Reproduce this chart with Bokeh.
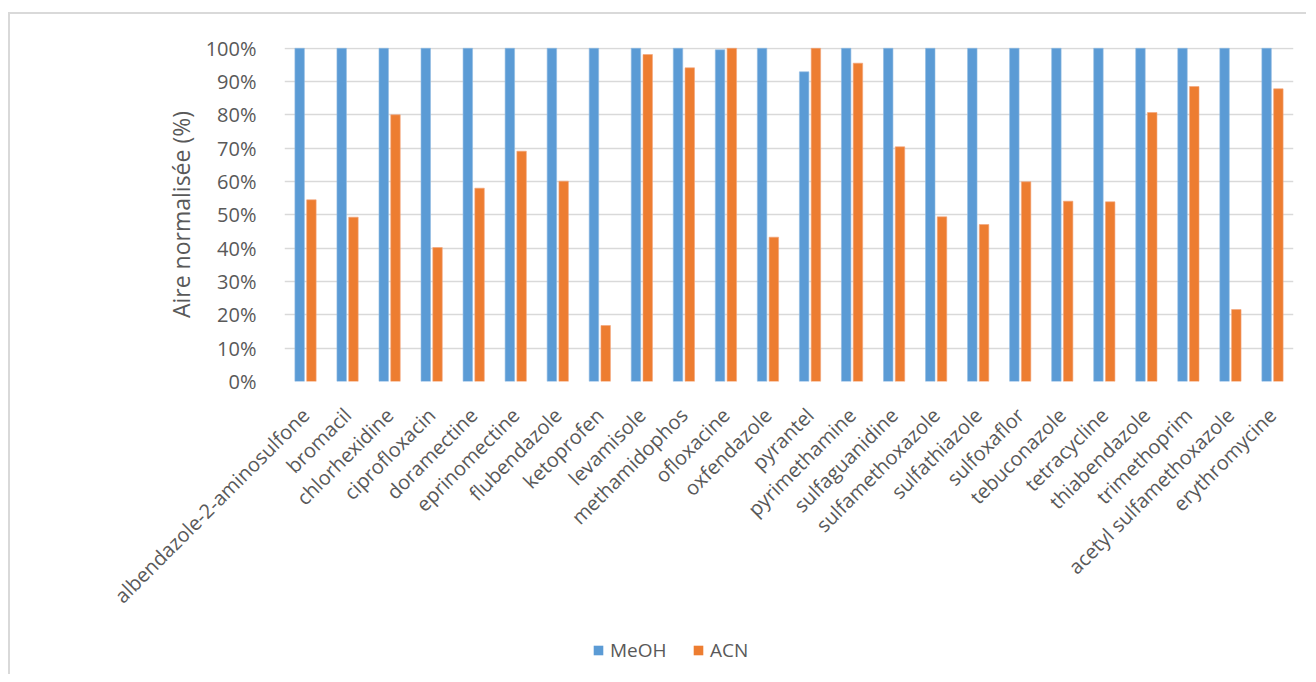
import math
from bokeh.plotting import figure
from bokeh.layouts import column
from bokeh.models import ColumnDataSource, FactorRange, Range1d, FixedTicker, NumeralTickFormatter, Legend, LegendItem
from bokeh.transform import dodge
from bokeh.embed import file_html
from bokeh.resources import INLINE

categories = [
    "albendazole-2-aminosulfone", "bromacil", "chlorhexidine", "ciprofloxacin",
    "doramectine", "eprinomectine", "flubendazole", "ketoprofen", "levamisole",
    "methamidophos", "ofloxacine", "oxfendazole", "pyrantel", "pyrimethamine",
    "sulfaguanidine", "sulfamethoxazole", "sulfathiazole", "sulfoxaflor",
    "tebuconazole", "tetracycline", "thiabendazole", "trimethoprim",
    "acetyl sulfamethoxazole", "erythromycine",
]
meoh = [1.0, 1.0, 1.0, 1.0, 1.0, 1.0, 1.0, 1.0, 1.0, 1.0, 0.995, 1.0,
        0.929, 1.0, 1.0, 1.0, 1.0, 1.0, 1.0, 1.0, 1.0, 1.0, 1.0, 1.0]
acn = [0.545, 0.493, 0.800, 0.402, 0.580, 0.691, 0.601, 0.168, 0.981, 0.941,
       1.0, 0.433, 1.0, 0.955, 0.704, 0.494, 0.471, 0.599, 0.541, 0.539,
       0.807, 0.885, 0.216, 0.878]
series_names = ["MeOH", "ACN"]
y_ticks = [0.0, 0.1, 0.2, 0.3, 0.4, 0.5, 0.6, 0.7, 0.8, 0.9, 1.0]

BLUE = "#5B9BD5"
ORANGE = "#ED7D31"
TXT = "#595959"
FONT = "Open Sans"

src = ColumnDataSource(dict(cat=categories, meoh=meoh, acn=acn))

p = figure(
    x_range=FactorRange(factors=categories, range_padding=0),
    y_range=Range1d(0, 1.002),
    width=1296, height=616,
    output_backend="svg", toolbar_location=None,
    min_border_left=274, min_border_right=13,
    min_border_top=33, min_border_bottom=249,
)
p.outline_line_color = None
p.background_fill_color = "white"
p.border_fill_color = "white"

p.vbar(x=dodge("cat", -0.14, range=p.x_range), top="meoh", width=0.225,
       source=src, fill_color=BLUE, line_color="#8fbbe3", line_width=0.6)
p.vbar(x=dodge("cat", 0.14, range=p.x_range), top="acn", width=0.225,
       source=src, fill_color=ORANGE, line_color="#f3a57a", line_width=0.6)

p.xgrid.grid_line_color = None
p.ygrid.grid_line_color = "#d9d9d9"
p.ygrid.grid_line_width = 1.5
p.ygrid.level = "underlay"

p.yaxis.ticker = FixedTicker(ticks=y_ticks)
p.yaxis.formatter = NumeralTickFormatter(format="0%")
p.yaxis.axis_line_color = None
p.yaxis.major_tick_line_color = None
p.yaxis.minor_tick_line_color = None
p.yaxis.major_label_standoff = 22
p.yaxis.major_label_text_font = FONT
p.yaxis.major_label_text_font_size = "20px"
p.yaxis.major_label_text_color = TXT
p.yaxis.axis_label = "Aire normalisée (%)"
p.yaxis.axis_label_text_font = FONT
p.yaxis.axis_label_text_font_size = "23px"
p.yaxis.axis_label_text_font_style = "normal"
p.yaxis.axis_label_text_color = TXT
p.yaxis.axis_label_standoff = 6

p.xaxis.axis_line_color = None
p.xaxis.major_tick_line_color = None
p.xaxis.minor_tick_line_color = None
p.xaxis.major_label_orientation = math.pi / 4
p.xaxis.major_label_standoff = 24
p.xaxis.major_label_text_font = FONT
p.xaxis.major_label_text_font_size = "20px"
p.xaxis.major_label_text_color = TXT

# legend strip below the chart (proxy glyphs have zero height, so only the legend shows)
lf = figure(width=1296, height=44, output_backend="svg", toolbar_location=None,
            x_range=Range1d(0, 1), y_range=Range1d(0, 1),
            x_axis_type=None, y_axis_type=None, min_border=0)
lf.outline_line_color = None
lf.xgrid.grid_line_color = None
lf.ygrid.grid_line_color = None
proxy = ColumnDataSource(dict(x=[0.5], top=[0.0]))
l1 = lf.vbar(x="x", top="top", bottom=0.0, width=0.1, source=proxy, fill_color=BLUE, line_color=None)
l2 = lf.vbar(x="x", top="top", bottom=0.0, width=0.1, source=proxy, fill_color=ORANGE, line_color=None)

legend = Legend(
    items=[LegendItem(label=series_names[0], renderers=[l1]),
           LegendItem(label=series_names[1], renderers=[l2])],
    orientation="horizontal", location=(308, 11),
    padding=0, margin=0, spacing=12, label_width=70, label_standoff=6,
    glyph_width=12, glyph_height=12,
    border_line_color=None, background_fill_alpha=0,
    label_text_font=FONT, label_text_font_size="19px", label_text_color=TXT,
)
lf.add_layout(legend, "center")

layout = column(p, lf, spacing=0,
                styles={"border-left": "2px solid #d9d9d9", "border-top": "2px solid #d9d9d9",
                        "margin-top": "12px", "margin-left": "8px"})

open("out.html", "w").write(file_html(layout, INLINE))
